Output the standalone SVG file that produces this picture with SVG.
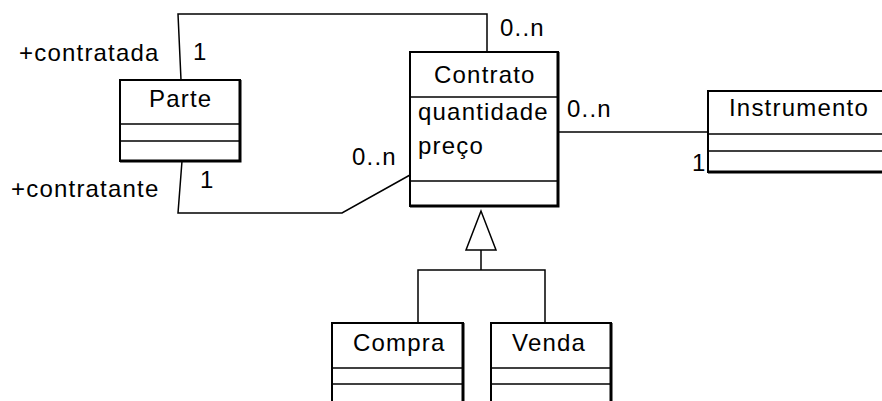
<svg xmlns="http://www.w3.org/2000/svg" width="882" height="401" viewBox="0 0 882 401">
  <style>
    .box { fill: #ffffff; stroke: #000000; stroke-width: 2; }
    .shade { fill: none; stroke: #000000; stroke-width: 3; }
    .div { stroke: #000000; stroke-width: 1.5; }
    .line { fill: none; stroke: #000000; stroke-width: 1.5; }
    .tri { fill: #ffffff; stroke: #000000; stroke-width: 1.5; }
    text { font-family: "Liberation Sans", Arial, sans-serif; font-size: 24px; letter-spacing: 1.2px; fill: #000000; }
  </style>
  <rect width="882" height="401" fill="#ffffff"/>

  <!-- associations and generalization -->
  <g id="connectors">
    <polyline class="line" points="181,80 178,14 487,14 487,52"/>
    <polyline class="line" points="182,161 178,213 342,213 410,175"/>
    <line class="line" x1="558" y1="132" x2="708" y2="132"/>
    <polyline class="line" points="418,323 418,270 545,270 545,323"/>
    <line class="line" x1="481" y1="250" x2="481" y2="270"/>
    <polygon class="tri" points="481,211 466,250 496,250"/>
  </g>

  <!-- association end labels -->
  <g id="labels">
    <text x="19" y="61">+contratada</text>
    <text x="193" y="60">1</text>
    <text x="11" y="197">+contratante</text>
    <text x="200" y="188">1</text>
    <text x="500" y="36">0..n</text>
    <text x="352" y="165">0..n</text>
    <text x="567" y="117">0..n</text>
    <text x="692" y="171">1</text>
  </g>

  <g id="Parte">
    <rect class="box" x="120" y="80" width="120" height="81"/>
    <polyline class="shade" points="240,80 240,161 120,161"/>
    <line class="div" x1="120" y1="124" x2="240" y2="124"/>
    <line class="div" x1="120" y1="141" x2="240" y2="141"/>
    <text x="149" y="107">Parte</text>
  </g>

  <g id="Contrato">
    <rect class="box" x="410" y="52" width="148" height="154"/>
    <polyline class="shade" points="558,52 558,206 410,206"/>
    <line class="div" x1="410" y1="97" x2="558" y2="97"/>
    <line class="div" x1="410" y1="181" x2="558" y2="181"/>
    <text x="434" y="83">Contrato</text>
    <text x="418" y="120">quantidade</text>
    <text x="418" y="154">preço</text>
  </g>

  <g id="Instrumento">
    <rect class="box" x="708" y="91" width="200" height="81"/>
    <polyline class="shade" points="708,172 908,172"/>
    <line class="div" x1="708" y1="134" x2="908" y2="134"/>
    <line class="div" x1="708" y1="151" x2="908" y2="151"/>
    <text x="729" y="116">Instrumento</text>
  </g>

  <g id="Compra">
    <rect class="box" x="332" y="323" width="131" height="100"/>
    <polyline class="shade" points="463,323 463,423"/>
    <line class="div" x1="332" y1="368" x2="463" y2="368"/>
    <line class="div" x1="332" y1="384" x2="463" y2="384"/>
    <text x="353" y="351">Compra</text>
  </g>

  <g id="Venda">
    <rect class="box" x="491" y="323" width="120" height="100"/>
    <polyline class="shade" points="611,323 611,423"/>
    <line class="div" x1="491" y1="368" x2="611" y2="368"/>
    <line class="div" x1="491" y1="384" x2="611" y2="384"/>
    <text x="512" y="351">Venda</text>
  </g>
</svg>
